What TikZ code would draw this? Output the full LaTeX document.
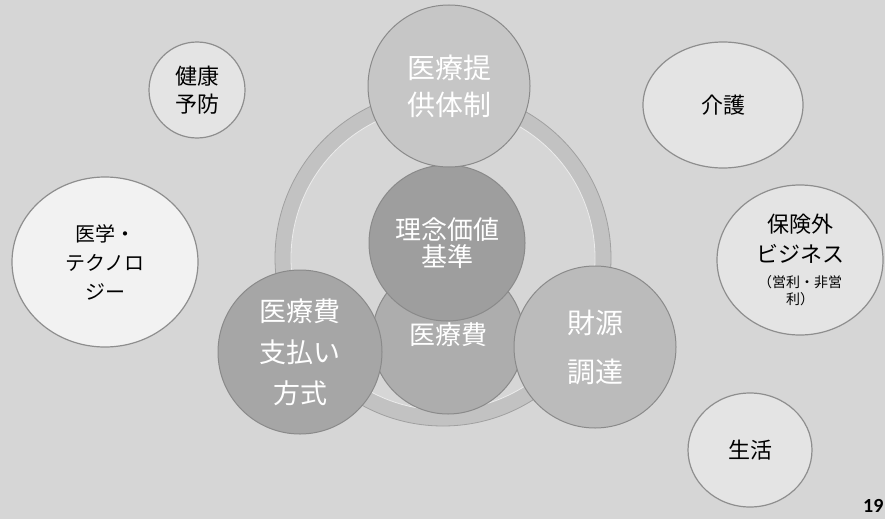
\documentclass[tikz,border=0pt]{standalone}
\usepackage{fontspec}
\setmainfont{Carlito}
\newfontfamily\jp{Noto Sans CJK JP}
\usetikzlibrary{shapes.geometric}
\definecolor{bg}{HTML}{D6D6D6}
\definecolor{outerfill}{HTML}{E4E4E4}
\definecolor{whitefill}{HTML}{F2F2F2}
\definecolor{outeredge}{HTML}{8E8E8E}
\definecolor{ringc}{HTML}{C2C2C2}
\definecolor{ringedge}{HTML}{A0A0A0}
\definecolor{inneredge}{HTML}{8A8A8A}
\definecolor{cA}{HTML}{C6C6C6}
\definecolor{cB}{HTML}{9E9E9E}
\definecolor{cC}{HTML}{ADADAD}
\definecolor{cD}{HTML}{A6A6A6}
\definecolor{cE}{HTML}{BBBBBB}
\tikzset{
  outerbub/.style={ellipse, draw=outeredge, line width=1.2pt, fill=outerfill,
    inner sep=0pt, align=center, text=black},
  innerbub/.style={circle, draw=inneredge, line width=1pt, inner sep=0pt,
    align=center, text=white},
  bigjp/.style={font=\jp\fontsize{28}{37}\selectfont},
  midjp/.style={font=\jp\fontsize{26}{27}\selectfont},
  outjp/.style={font=\jp\fontsize{22}{28}\selectfont},
}
\begin{document}
\begin{tikzpicture}[x=1pt,y=-1pt]
\fill[bg] (0,0) rectangle (885,519);
\useasboundingbox (0,0) rectangle (885,519);
% ring
\draw[ringc, line width=16pt] (443,258) circle[radius=160];
\draw[ringedge, line width=0.8pt] (443,258) circle[radius=168];
\draw[white!85!gray, line width=0.8pt] (443,258) circle[radius=152];
% outer bubbles
\node[outerbub, outjp, minimum width=96pt, minimum height=96pt] (kenko) at (197,90) {健康\\予防};
\node[outerbub, fill=whitefill, font=\jp\fontsize{20}{29}\selectfont, minimum width=186pt, minimum height=170pt] (igaku) at (105,262) {医学・\\テクノロ\\ジー};
\node[outerbub, outjp, minimum width=160pt, minimum height=126pt] (kaigo) at (723,105) {介護};
\node[outerbub, font=\jp\fontsize{22}{30}\selectfont, minimum width=166pt, minimum height=150pt] (hoken) at (800,260)
  {保険外\\ビジネス\\[-5pt]{\fontsize{14}{16}\selectfont （営利・非営}\\[-13pt]{\fontsize{14}{16}\selectfont 利）}};
\node[outerbub, outjp, minimum width=124pt, minimum height=114pt] (seikatsu) at (750,450) {生活};
% inner bubbles
\node[innerbub, midjp, fill=cC, minimum size=152pt] (iryohi) at (448,338) {\raisebox{8pt}{医療費}};
\node[innerbub, midjp, fill=cB, minimum size=156pt] (rinen) at (447,243) {理念価値\\基準};
\node[innerbub, font=\jp\fontsize{27}{41}\selectfont, fill=cD, minimum size=164pt] (shiharai) at (300,352) {医療費\\支払い\\方式};
\node[innerbub, font=\jp\fontsize{28}{49}\selectfont, fill=cE, minimum size=162pt] (zaigen) at (595,347) {財源\\調達};
\node[innerbub, bigjp, fill=cA, minimum size=162pt] (teikyo) at (449,86) {医療提\\供体制};
% page number
\node[anchor=west, font=\bfseries\fontsize{20}{20}\selectfont, inner sep=0pt] (pg) at (863,506) {19};
\end{tikzpicture}
\end{document}
